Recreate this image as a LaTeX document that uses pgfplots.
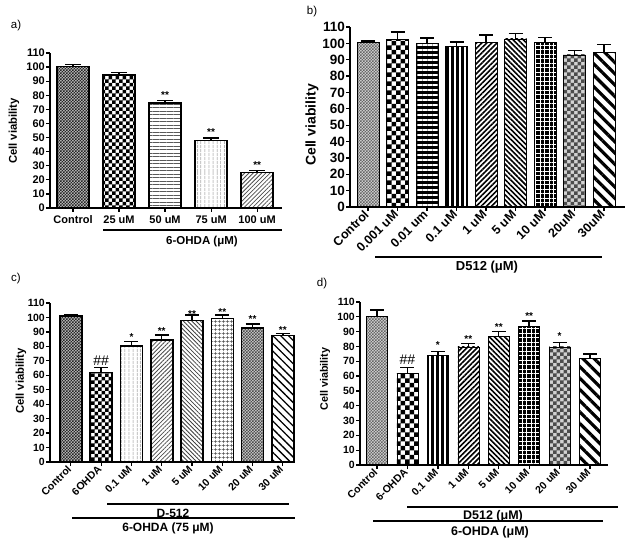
\documentclass[border=0pt]{standalone}
\usepackage{fontspec}
\setmainfont{Liberation Sans}
\usepackage{pgfplots}
\pgfplotsset{compat=1.18}
\usetikzlibrary{patterns,patterns.meta}

\pgfdeclarepatternformonly{finechecker}{\pgfqpoint{-.1pt}{-.1pt}}{\pgfqpoint{3.1pt}{3.1pt}}{\pgfqpoint{3pt}{3pt}}{%
 \pgfpathrectangle{\pgfqpoint{0pt}{0pt}}{\pgfqpoint{1.55pt}{1.55pt}}%
 \pgfpathrectangle{\pgfqpoint{1.5pt}{1.5pt}}{\pgfqpoint{1.55pt}{1.55pt}}%
 \pgfusepath{fill}}
\pgfdeclarepatternformonly{checkA}{\pgfqpoint{-.1pt}{-.1pt}}{\pgfqpoint{7.1pt}{7.1pt}}{\pgfqpoint{7pt}{7pt}}{%
 \pgfpathrectangle{\pgfqpoint{0pt}{0pt}}{\pgfqpoint{3.55pt}{3.55pt}}%
 \pgfpathrectangle{\pgfqpoint{3.5pt}{3.5pt}}{\pgfqpoint{3.55pt}{3.55pt}}%
 \pgfusepath{fill}}
\pgfdeclarepatternformonly{checkB}{\pgfqpoint{-.1pt}{-.1pt}}{\pgfqpoint{9.1pt}{9.1pt}}{\pgfqpoint{9pt}{9pt}}{%
 \pgfpathrectangle{\pgfqpoint{0pt}{0pt}}{\pgfqpoint{4.55pt}{4.55pt}}%
 \pgfpathrectangle{\pgfqpoint{4.5pt}{4.5pt}}{\pgfqpoint{4.55pt}{4.55pt}}%
 \pgfusepath{fill}}

\tikzset{
 % white-background styles (panels a, c)
 Wbox/.style={draw=black, line width=1.6pt},
 ctrlW/.style={Wbox, fill=gray!45, postaction={pattern=finechecker, pattern color=black!85}},
 chkW/.style={Wbox, fill=white, postaction={pattern=checkA, pattern color=black}},
 hlW/.style={Wbox, fill=white, postaction={pattern={Lines[angle=0,distance=3.5pt,line width=0.9pt]}, pattern color=black!65}},
 vlW/.style={Wbox, fill=white, postaction={pattern={Lines[angle=90,distance=4pt,line width=0.8pt]}, pattern color=black!60}},
 neW/.style={Wbox, fill=white, postaction={pattern={Lines[angle=45,distance=3pt,line width=0.8pt]}, pattern color=black!70}},
 nwW/.style={Wbox, fill=white, postaction={pattern={Lines[angle=-45,distance=3pt,line width=0.8pt]}, pattern color=black!75}},
 grW/.style={Wbox, fill=white, postaction={pattern={Hatch[angle=0,distance=4pt,line width=0.7pt]}, pattern color=black!70}},
 dotW/.style={Wbox, fill=gray!35, postaction={pattern=finechecker, pattern color=black!70}},
 cnwW/.style={Wbox, fill=white, postaction={pattern={Lines[angle=-45,distance=5.5pt,line width=1.3pt]}, pattern color=black}},
 % filled styles (panels b, d)
 Bbox/.style={draw=black, line width=0.5pt},
 ctrlB/.style={Bbox, fill=gray!30, postaction={pattern=finechecker, pattern color=black!60}},
 chkB/.style={Bbox, fill=white, postaction={pattern=checkB, pattern color=black}},
 hlB/.style={Bbox, fill=black, postaction={pattern={Lines[angle=0,distance=5pt,line width=1.3pt]}, pattern color=white}},
 vlB/.style={Bbox, fill=black, postaction={pattern={Lines[angle=90,distance=5pt,line width=1.3pt]}, pattern color=white}},
 neB/.style={Bbox, fill=white, postaction={pattern={Lines[angle=45,distance=3.6pt,line width=1.6pt]}, pattern color=black}},
 nwB/.style={Bbox, fill=white, postaction={pattern={Lines[angle=-45,distance=3.6pt,line width=1.6pt]}, pattern color=black}},
 grB/.style={Bbox, fill=black, postaction={pattern={Hatch[angle=0,distance=4.5pt,line width=1pt]}, pattern color=white}},
 dotB/.style={Bbox, fill=gray!35, postaction={pattern=checkA, pattern color=black!70}},
 thkB/.style={Bbox, fill=white, postaction={pattern={Lines[angle=-45,distance=8pt,line width=3.2pt]}, pattern color=black}},
}

\pgfplotsset{
 panel/.style={
  scale only axis, anchor=south west,
  ybar, bar shift=0pt,
  ymin=0, ymax=110, ytick={0,10,...,110},
  axis x line*=bottom, axis y line*=left,
  axis line style={-, line width=1.7pt},
  tick style={black, line width=1.2pt},
  major tick length=4pt, tick align=outside,
  /pgf/number format/assume math mode=true,
  yticklabel style={inner sep=1pt},
  clip=false, axis on top,
  error bars/y dir=plus, error bars/y explicit,
  error bars/error bar style={black, line width=1.4pt, solid},
  error bars/error mark options={rotate=90, black, line width=1.4pt, mark size=7pt},
 },
}

\newcommand{\B}[4][]{\addplot[#1] coordinates {(#2,#3) +- (0,#4)};}
\newcommand{\sig}[3]{\node[anchor=base, inner sep=0pt, font=\fontsize{10}{10}\selectfont\bfseries] at (axis cs:#1,#2) {#3};}
\newcommand{\hsh}[2]{\node[anchor=base, inner sep=0pt, font=\fontsize{14}{14}\selectfont] at (axis cs:#1,#2) {\#\#};}

\begin{document}
\begin{tikzpicture}
\useasboundingbox (0pt,0pt) rectangle (629pt,-545pt);

% ---------------- panel a ----------------
\begin{axis}[panel, at={(50pt,-208pt)}, width=232pt, height=155pt,
  xmin=-0.5, xmax=4.54, bar width=32pt,
  xtick={0,...,4}, xticklabels={Control,25 uM,50 uM,75 uM,100 uM},
  ticklabel style={font=\fontsize{11}{12}\selectfont\bfseries},
  error bars/error mark options={rotate=90, black, line width=1.4pt, mark size=8pt}]
\B[ctrlW]{0}{100.5}{1.2}
\B[chkW]{1}{94.4}{1.8}
\B[hlW]{2}{74.7}{1.7}
\B[vlW]{3}{47.8}{2.0}
\B[neW]{4}{25.3}{1.2}
\sig{2}{77.9}{**}
\sig{3}{51.3}{**}
\sig{4}{28.0}{**}
\end{axis}
\node[font=\fontsize{11.5}{12}\selectfont] at (16pt,-26pt) {a)};
\node[rotate=90, font=\fontsize{11.3}{12}\selectfont\bfseries] at (14pt,-131pt) {Cell viability};
\draw[line width=1.5pt] (103pt,-230pt) -- (282pt,-230pt);
\node[font=\fontsize{11.5}{12}\selectfont\bfseries] at (202pt,-242pt) {6-OHDA (μM)};

% ---------------- panel b ----------------
\begin{axis}[panel, at={(350pt,-207pt)}, width=275pt, height=180pt,
  xmin=-0.61, xmax=8.71, bar width=22pt,
  xtick={0,...,8}, xticklabels={Control,0.001 uM,0.01 um,0.1 uM,1 uM,5 uM,10 uM,20uM,30uM},
  yticklabel style={font=\fontsize{13.5}{14}\selectfont\bfseries},
  xticklabel style={font=\fontsize{12.5}{13}\selectfont\bfseries, rotate=45, anchor=east, inner sep=2pt}]
\B[ctrlB]{0}{100.4}{1.1}
\B[chkB]{1}{102.5}{4.5}
\B[hlB]{2}{100}{3.3}
\B[vlB]{3}{98}{2.8}
\B[neB]{4}{100.4}{4.6}
\B[nwB]{5}{102.7}{3.3}
\B[grB]{6}{100.6}{3.1}
\B[dotB]{7}{92.9}{2.7}
\B[thkB]{8}{94.5}{4.9}
\end{axis}
\node[font=\fontsize{11.5}{12}\selectfont] at (312pt,-12pt) {b)};
\node[rotate=90, font=\fontsize{14}{15}\selectfont\bfseries] at (312pt,-125pt) {Cell viability};
\draw[line width=1.5pt] (375pt,-257pt) -- (602pt,-257pt);
\node[font=\fontsize{13}{14}\selectfont\bfseries] at (487pt,-267pt) {D512 (μM)};

% ---------------- panel c ----------------
\begin{axis}[panel, at={(50pt,-462pt)}, width=245pt, height=159pt,
  xmin=-0.69, xmax=7.4, bar width=22pt,
  xtick={0,...,7}, xticklabels={Control,6OHDA,0.1 uM,1 uM,5 uM,10 uM,20 uM,30 uM},
  ticklabel style={font=\fontsize{10.5}{12}\selectfont\bfseries},
  xticklabel style={rotate=45, anchor=east, inner sep=2pt}]
\B[ctrlW]{0}{101}{0.7}
\B[chkW]{1}{62}{3.5}
\B[vlW]{2}{80.3}{3.2}
\B[neW]{3}{84.4}{3.6}
\B[nwW]{4}{97.8}{3.9}
\B[grW]{5}{99.2}{2.5}
\B[dotW]{6}{92.7}{2.8}
\B[cnwW]{7}{87.4}{1.6}
\hsh{1}{67}
\sig{2}{83.8}{*}
\sig{3}{88.3}{**}
\sig{4}{100}{**}
\sig{5}{101.5}{**}
\sig{6}{96.2}{**}
\sig{7}{89}{**}
\end{axis}
\node[font=\fontsize{11.5}{12}\selectfont] at (16pt,-279pt) {c)};
\node[rotate=90, font=\fontsize{11.3}{12}\selectfont\bfseries] at (21pt,-381pt) {Cell viability};
\draw[line width=1.5pt] (107pt,-504pt) -- (289pt,-504pt);
\node[font=\fontsize{12}{12}\selectfont\bfseries] at (173pt,-513pt) {D-512};
\draw[line width=1.5pt] (72pt,-518pt) -- (295pt,-518pt);
\node[font=\fontsize{12}{12}\selectfont\bfseries] at (168pt,-528pt) {6-OHDA (75 μM)};

% ---------------- panel d ----------------
\begin{axis}[panel, at={(360pt,-465pt)}, width=248pt, height=163pt,
  xmin=-0.56, xmax=7.59, bar width=21pt,
  xtick={0,...,7}, xticklabels={Control,6-OHDA,0.1 uM,1 uM,5 uM,10 uM,20 uM,30 uM},
  ticklabel style={font=\fontsize{10.5}{12}\selectfont\bfseries},
  xticklabel style={rotate=45, anchor=east, inner sep=2pt}]
\B[ctrlB]{0}{100.5}{4.1}
\B[chkB]{1}{61.9}{4.0}
\B[vlB]{2}{74}{2.5}
\B[neB]{3}{79.8}{2.3}
\B[nwB]{4}{86.6}{3.4}
\B[grB]{5}{93.3}{3.9}
\B[dotB]{6}{79.8}{2.7}
\B[thkB]{7}{72}{2.9}
\hsh{1}{67.5}
\sig{2}{78.5}{*}
\sig{3}{83}{**}
\sig{4}{91}{**}
\sig{5}{98}{**}
\sig{6}{84.5}{*}
\end{axis}
\node[font=\fontsize{11.5}{12}\selectfont] at (322pt,-284pt) {d)};
\node[rotate=90, font=\fontsize{10.8}{12}\selectfont\bfseries] at (325pt,-379pt) {Cell viability};
\draw[line width=1.5pt] (407pt,-507pt) -- (618pt,-507pt);
\node[font=\fontsize{12.5}{13}\selectfont\bfseries] at (493pt,-516pt) {D512 (μM)};
\draw[line width=1.5pt] (373pt,-521pt) -- (603pt,-521pt);
\node[font=\fontsize{12.5}{13}\selectfont\bfseries] at (490pt,-532pt) {6-OHDA (μM)};
\end{tikzpicture}
\end{document}
